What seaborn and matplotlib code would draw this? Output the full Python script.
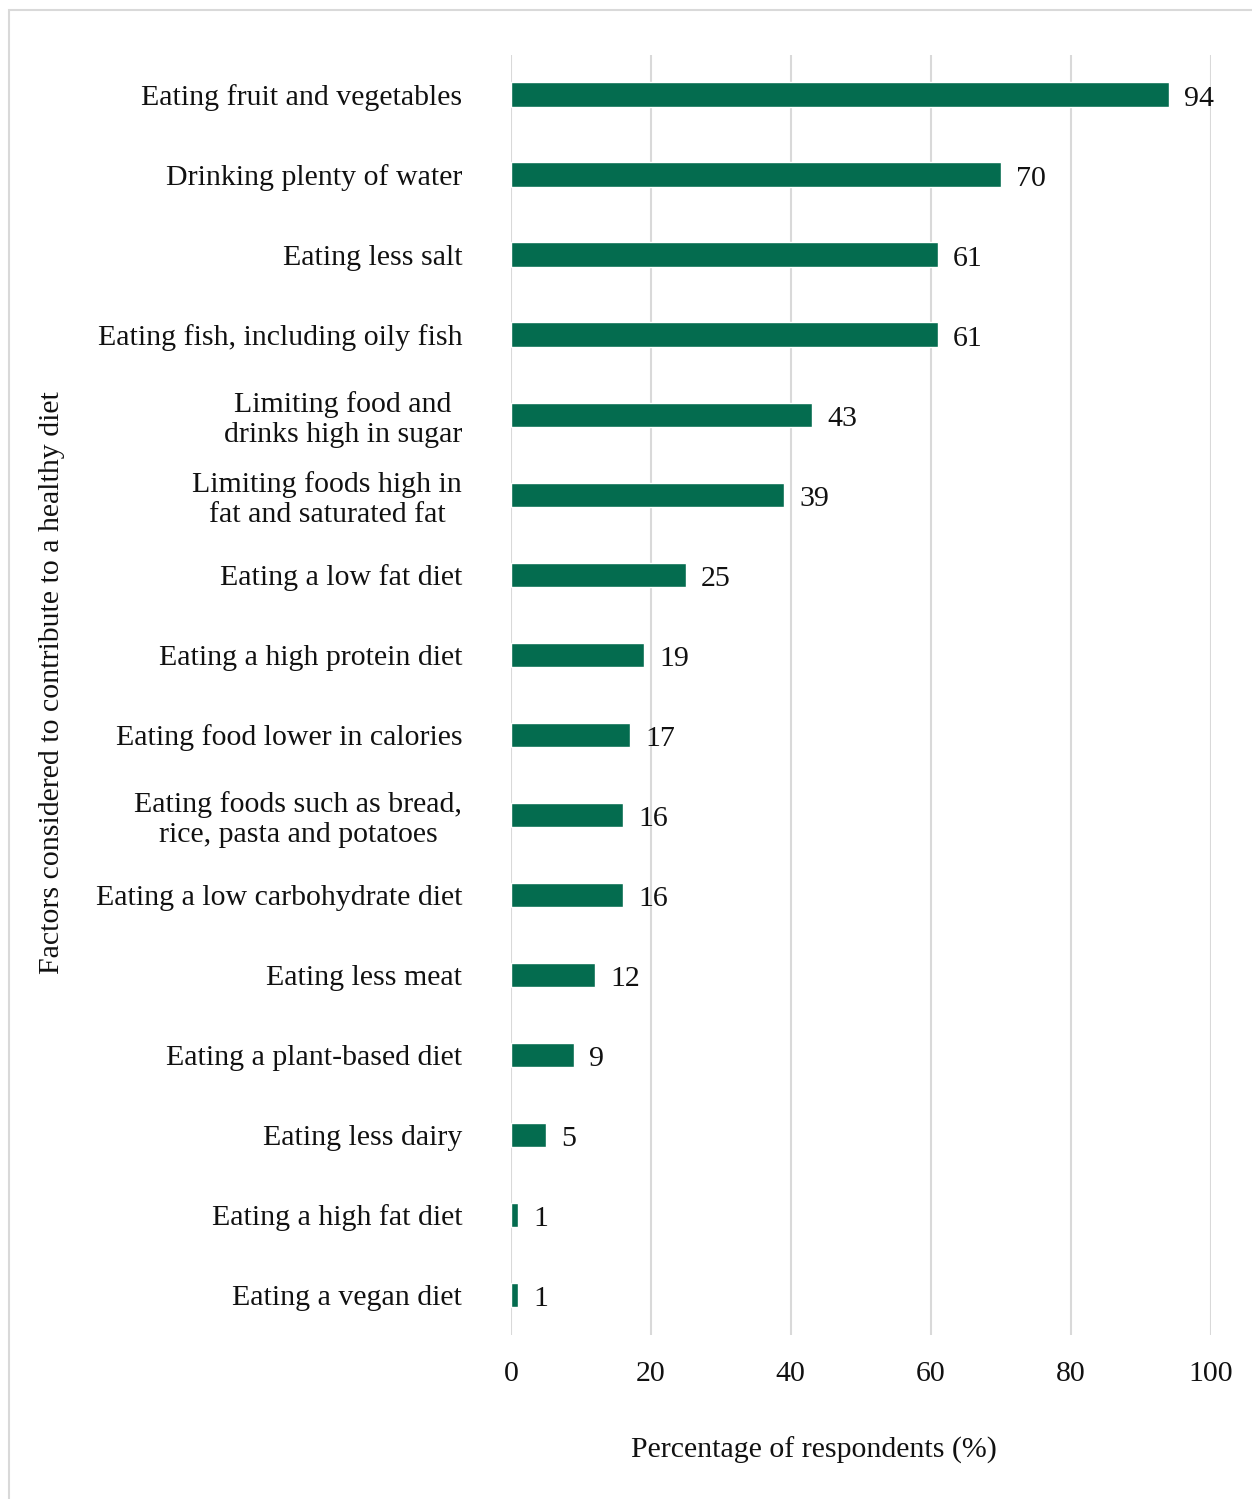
import pandas as pd
import matplotlib.pyplot as plt
import seaborn as sns
from matplotlib.patches import Rectangle

# Data
factors = [
    "Eating fruit and vegetables",
    "Drinking plenty of water",
    "Eating less salt",
    "Eating fish, including oily fish",
    "Limiting food and\ndrinks high in sugar",
    "Limiting foods high in\nfat and saturated fat",
    "Eating a low fat diet",
    "Eating a high protein diet",
    "Eating food lower in calories",
    "Eating foods such as bread,\nrice, pasta and potatoes",
    "Eating a low carbohydrate diet",
    "Eating less meat",
    "Eating a plant-based diet",
    "Eating less dairy",
    "Eating a high fat diet",
    "Eating a vegan diet",
]
percentages = [94, 70, 61, 61, 43, 39, 25, 19, 17, 16, 16, 12, 9, 5, 1, 1]
x_ticks = [0, 20, 40, 60, 80, 100]

FS = 21.5
TXT = "#111111"


def build_chart(data):
    sns.set_theme(style="white")
    plt.rcParams["font.family"] = ["Liberation Serif", "DejaVu Serif"]

    fig = plt.figure(figsize=(12.52, 14.99), dpi=100)
    ax = fig.add_axes([0.408, 0.1094, 0.559, 0.854])

    sns.barplot(data=data, x="pct", y="factor", orient="h", color="#046C4F",
                saturation=1, width=0.31, ax=ax)

    anns = ax.bar_label(ax.containers[0], labels=[str(v) for v in data["pct"]],
                        padding=11, fontsize=FS, color=TXT)
    for a in anns:
        a.xyann = (11, -3)

    ax.set_xlim(0, 100)
    ax.set_xticks(x_ticks)
    ax.xaxis.grid(True, color="#d9d9d9", linewidth=1.5)
    ax.set_axisbelow(True)
    for s in ax.spines.values():
        s.set_visible(False)

    ax.tick_params(axis="x", length=0, pad=18.5, labelsize=FS, labelcolor=TXT)
    ax.tick_params(axis="y", length=0, pad=35, labelsize=FS, labelcolor=TXT)
    for lbl in ax.get_yticklabels():
        lbl.set_multialignment("center")

    ax.set_xlabel("Percentage of respondents (%)", fontsize=FS, color=TXT,
                  labelpad=0)
    ax.xaxis.set_label_coords(0.433, -0.0795)
    ax.set_ylabel("Factors considered to contribute to a healthy diet",
                  fontsize=FS, color=TXT)
    ax.yaxis.set_label_coords(-0.637, 0.51)

    # light frame around the whole chart (only top and left edges visible)
    fig.patches.append(Rectangle((9 / 1252, -0.1), 1.2, 1.1 - 10 / 1499,
                                 transform=fig.transFigure, fill=False,
                                 edgecolor="#d9d9d9", linewidth=1.5))

    fig.savefig("out.png", dpi=100)


def main():
    data = pd.DataFrame({"factor": factors, "pct": percentages})
    build_chart(data)


if __name__ == "__main__":
    main()
